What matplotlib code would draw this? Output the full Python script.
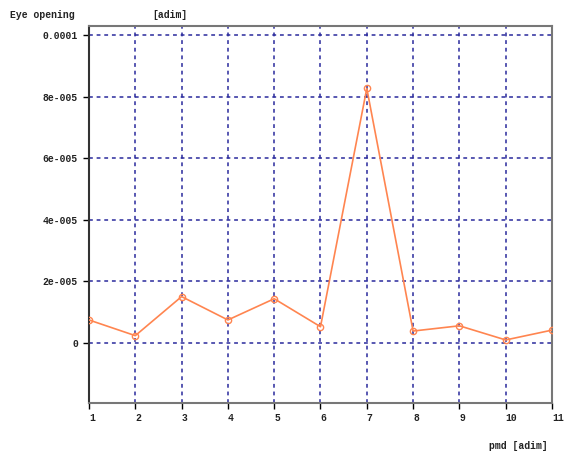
import numpy as np
import matplotlib
matplotlib.use("Agg")
import matplotlib.pyplot as plt

# pmd sweep and measured eye opening
pmd = [1, 2, 3, 4, 5, 6, 7, 8, 9, 10, 11]
eye_opening = [0.74e-5, 0.23e-5, 1.50e-5, 0.74e-5, 1.43e-5, 0.52e-5,
               8.27e-5, 0.38e-5, 0.55e-5, 0.09e-5, 0.41e-5]

y_ticks = [0, 2e-5, 4e-5, 6e-5, 8e-5, 1e-4]
y_tick_labels = ["0", "2e-005", "4e-005", "6e-005", "8e-005", "0.0001"]
x_ticks = [1, 2, 3, 4, 5, 6, 7, 8, 9, 10, 11]

mono = "Liberation Mono"
grid_col = "#2a2a9c"

fig = plt.figure(figsize=(5.65, 4.55), dpi=100)
ax = fig.add_axes([0.1575, 0.1143, 0.8195, 0.8286])

ax.plot(pmd, eye_opening, color="#ff8550", lw=1.2, marker="o", ms=4.5,
        mfc="none", mec="#ff8550", mew=1.0, zorder=3)

ax.set_xlim(1, 11)
ax.set_ylim(-1.96e-5, 1.03e-4)

ax.set_yticks(y_ticks)
ax.set_yticklabels(y_tick_labels, fontfamily=mono, fontsize=7, fontweight="bold",
                   color="#222222")
ax.set_xticks(x_ticks)
ax.set_xticklabels([str(v) for v in x_ticks], fontfamily=mono, fontsize=7,
                   fontweight="bold", ha="left", color="#222222")

ax.tick_params(axis="both", length=4, width=1, color="black", pad=3)
ax.tick_params(axis="y", pad=4)

# dashed grid
for y in y_ticks:
    ax.axhline(y, color=grid_col, lw=1.1, ls=(0, (2.5, 2.5)), zorder=1)
for x in x_ticks[1:-1]:
    ax.axvline(x, color=grid_col, lw=1.1, ls=(0, (2.5, 2.5)), zorder=1)

for side in ["top", "right", "bottom"]:
    ax.spines[side].set_color("#777777")
    ax.spines[side].set_linewidth(1.5)
ax.spines["left"].set_color("#333333")
ax.spines["left"].set_linewidth(1.5)

fig.text(10 / 565, 1 - 15 / 455, "Eye opening", fontfamily=mono, fontsize=7,
         fontweight="bold", va="center", ha="left", color="#222222")
fig.text(152 / 565, 1 - 15 / 455, "[adim]", fontfamily=mono, fontsize=7,
         fontweight="bold", va="center", ha="left", color="#222222")
fig.text(548 / 565, 1 - 446 / 455, "pmd [adim]", fontfamily=mono, fontsize=7,
         fontweight="bold", va="center", ha="right", color="#222222")

fig.savefig("out.png", dpi=100)
